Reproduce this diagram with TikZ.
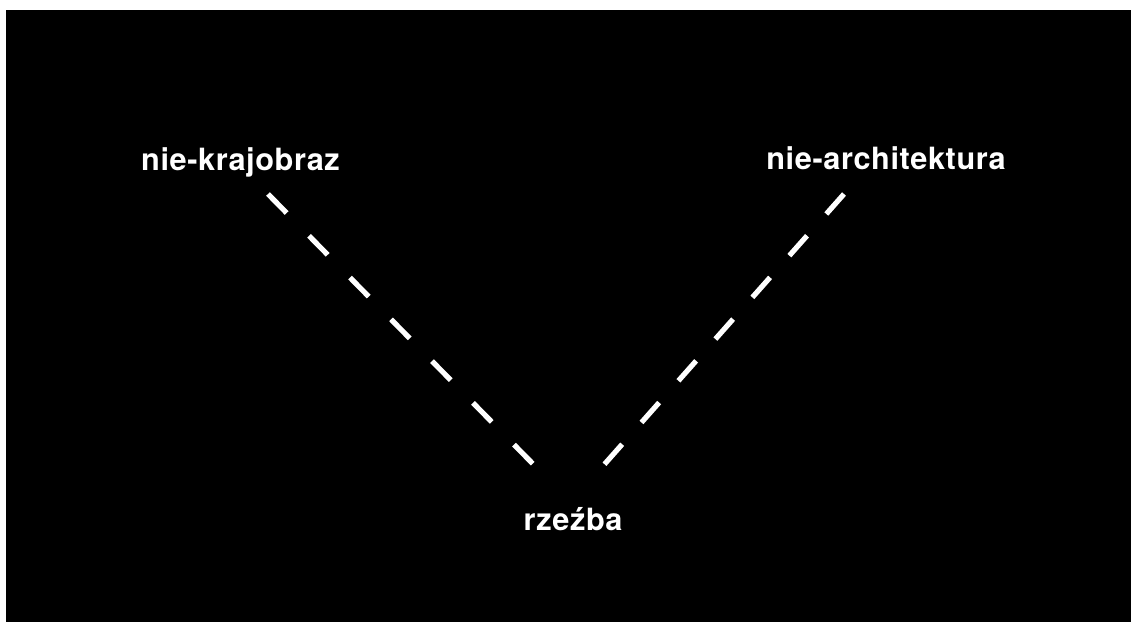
\documentclass[tikz,border=0pt]{standalone}
\usepackage{fontspec}
\setmainfont{TeX Gyre Heros}
\newfontfamily\labelfont[LetterSpace=2]{TeX Gyre Heros}
\begin{document}
\begin{tikzpicture}[x=0.75pt,y=-0.75pt,
  lbl/.style={text=white,font=\labelfont\bfseries\fontsize{23pt}{27pt}\selectfont,
    anchor=base,inner sep=0pt},
  link/.style={draw=white,line width=3.9pt}]
  \useasboundingbox (0,0) rectangle (1131,622);
  \fill[black] (6,10) rectangle (1131,622);
  % labels
  \node[lbl] (krajobraz) at (240.5,170) {nie-krajobraz};
  \node[lbl] (architektura) at (886,169) {nie-architektura};
  \node[lbl] (rzezba) at (573,530) {rzeźba};
  % end points of the dashed links
  \coordinate (k1) at (268,194);
  \coordinate (k2) at (535,466);
  \coordinate (a1) at (844,194);
  \coordinate (a2) at (602,467);
  \draw[link,dash pattern=on 20pt off 23.9pt] (k1) -- (k2);
  \draw[link,dash pattern=on 20pt off 21.8pt] (a1) -- (a2);
\end{tikzpicture}
\end{document}
